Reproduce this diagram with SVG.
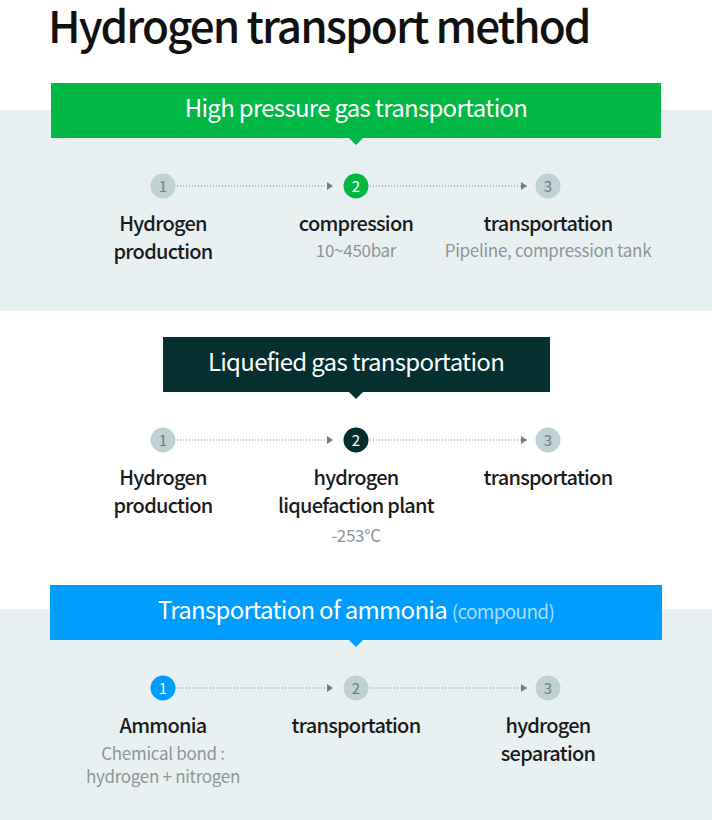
<svg xmlns="http://www.w3.org/2000/svg" width="712" height="820" viewBox="0 0 712 820">
<defs>
<style>
text{font-family:"Noto Sans CJK KR","Noto Sans",sans-serif}
.title{font-size:44px;font-weight:500;fill:#111;letter-spacing:-1.9px}
.hdr{font-size:24px;font-weight:400;fill:#fff;text-anchor:middle;letter-spacing:-0.7px}
.lbl{font-size:20px;font-weight:500;fill:#1a1a1a;text-anchor:middle;letter-spacing:-0.75px}
.sub{font-size:17px;font-weight:400;fill:#8e9597;text-anchor:middle;letter-spacing:-0.3px}
.num{font-size:15px;font-weight:400;text-anchor:middle}
.cg{fill:#bfd1d3}
.ng{fill:#6c7f82}
.nw{fill:#fff}
.dot{stroke:#7e8a8c;stroke-width:1;stroke-dasharray:1 2;fill:none}
</style>
<marker id="ah" viewBox="0 0 6 8" refX="6" refY="4" markerWidth="6" markerHeight="8" markerUnits="userSpaceOnUse" orient="auto">
<path d="M0,0 L6,4 L0,8 Z" fill="#6c7f82"/>
</marker>
</defs>
<rect x="0" y="0" width="712" height="820" fill="#fff"/>
<rect x="0" y="110" width="712" height="201" fill="#e8f0f2"/>
<rect x="0" y="609" width="712" height="211" fill="#e8f0f2"/>
<text class="title" x="48" y="43">Hydrogen transport method</text>

<g id="header1">
<rect x="51" y="83" width="610" height="55" fill="#00b843"/>
<path d="M349,138 L363,138 L356,145 Z" fill="#00b843"/>
<text class="hdr" x="356" y="117">High pressure gas transportation</text>
</g>
<g id="header2">
<rect x="163" y="337" width="387" height="55" fill="#05302f"/>
<path d="M349,392 L363,392 L356,399 Z" fill="#05302f"/>
<text class="hdr" x="356" y="371">Liquefied gas transportation</text>
</g>
<g id="header3">
<rect x="50" y="585" width="612" height="55" fill="#009dff"/>
<path d="M349,640 L363,640 L356,647 Z" fill="#009dff"/>
<text class="hdr" x="356" y="619">Transportation of ammonia <tspan fill="#a9dcff" font-size="19">(compound)</tspan></text>
</g>

<g id="connectors">
<line class="dot" x1="177" y1="186" x2="333" y2="186" marker-end="url(#ah)"/>
<line class="dot" x1="370" y1="186" x2="527" y2="186" marker-end="url(#ah)"/>
<line class="dot" x1="177" y1="440" x2="333" y2="440" marker-end="url(#ah)"/>
<line class="dot" x1="370" y1="440" x2="527" y2="440" marker-end="url(#ah)"/>
<line class="dot" x1="177" y1="688" x2="333" y2="688" marker-end="url(#ah)"/>
<line class="dot" x1="370" y1="688" x2="527" y2="688" marker-end="url(#ah)"/>
</g>

<g id="s1-step1">
<circle class="cg" cx="163" cy="186" r="12.5"/>
<text class="num ng" x="163" y="191.5">1</text>
<text class="lbl" x="163" y="231">Hydrogen</text>
<text class="lbl" x="163" y="259">production</text>
</g>
<g id="s1-step2">
<circle cx="356" cy="186" r="12.5" fill="#00b843"/>
<text class="num nw" x="356" y="191.5">2</text>
<text class="lbl" x="356" y="231">compression</text>
<text class="sub" x="356" y="257">10~450bar</text>
</g>
<g id="s1-step3">
<circle class="cg" cx="548" cy="186" r="12.5"/>
<text class="num ng" x="548" y="191.5">3</text>
<text class="lbl" x="548" y="231">transportation</text>
<text class="sub" x="548" y="257">Pipeline, compression tank</text>
</g>

<g id="s2-step1">
<circle class="cg" cx="163" cy="440" r="12.5"/>
<text class="num ng" x="163" y="445.5">1</text>
<text class="lbl" x="163" y="485">Hydrogen</text>
<text class="lbl" x="163" y="513">production</text>
</g>
<g id="s2-step2">
<circle cx="356" cy="440" r="12.5" fill="#05302f"/>
<text class="num nw" x="356" y="445.5">2</text>
<text class="lbl" x="356" y="485">hydrogen</text>
<text class="lbl" x="356" y="513">liquefaction plant</text>
<text class="sub" x="356" y="542">-253°C</text>
</g>
<g id="s2-step3">
<circle class="cg" cx="548" cy="440" r="12.5"/>
<text class="num ng" x="548" y="445.5">3</text>
<text class="lbl" x="548" y="485">transportation</text>
</g>

<g id="s3-step1">
<circle cx="163" cy="688" r="12.5" fill="#009dff"/>
<text class="num nw" x="163" y="693.5">1</text>
<text class="lbl" x="163" y="733">Ammonia</text>
<text class="sub" x="163" y="760">Chemical bond :</text>
<text class="sub" x="163" y="783">hydrogen + nitrogen</text>
</g>
<g id="s3-step2">
<circle class="cg" cx="356" cy="688" r="12.5"/>
<text class="num ng" x="356" y="693.5">2</text>
<text class="lbl" x="356" y="733">transportation</text>
</g>
<g id="s3-step3">
<circle class="cg" cx="548" cy="688" r="12.5"/>
<text class="num ng" x="548" y="693.5">3</text>
<text class="lbl" x="548" y="733">hydrogen</text>
<text class="lbl" x="548" y="761">separation</text>
</g>
</svg>
